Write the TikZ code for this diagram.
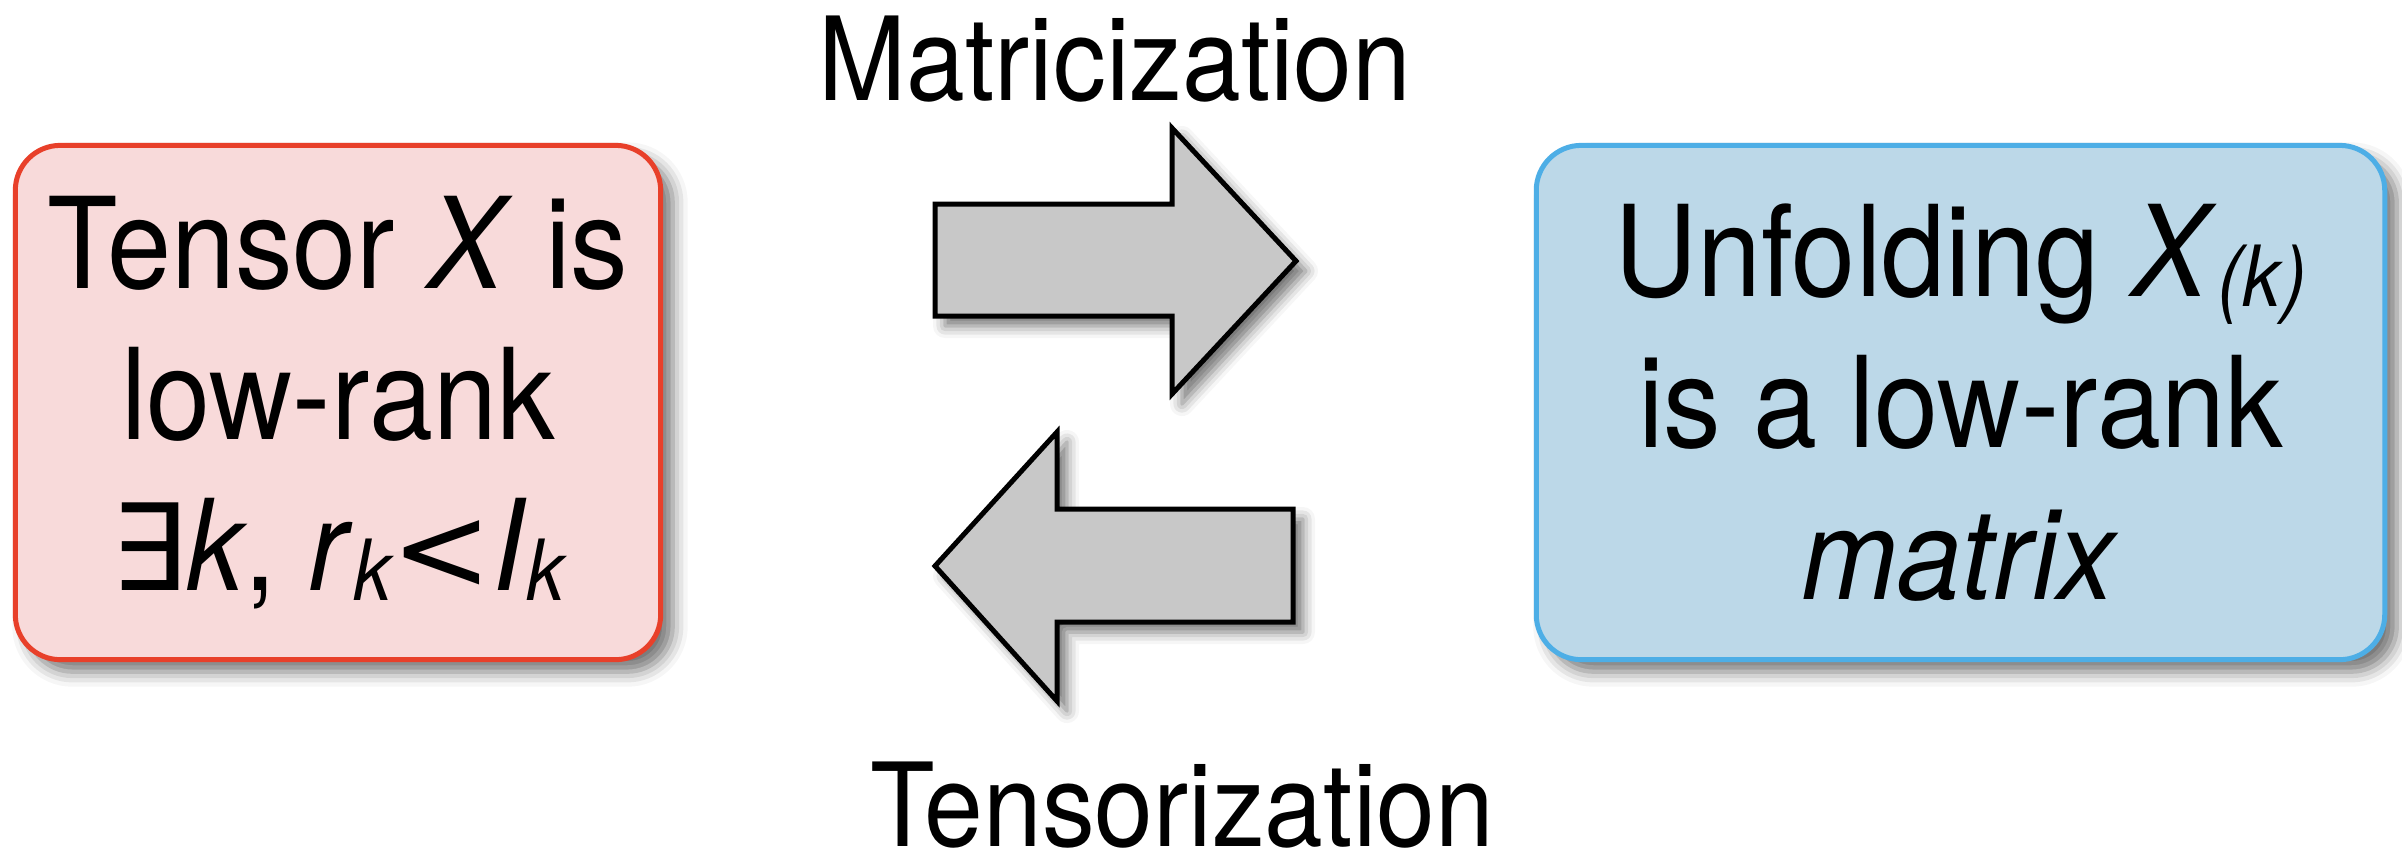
\documentclass[tikz,border=0pt]{standalone}
\usepackage{fontspec}
\setmainfont[FakeStretch=0.91]{TeX Gyre Heros}
\newfontfamily\existsfont[Scale=0.95]{DejaVu Sans}
\usepackage{tikz}
\usetikzlibrary{shadows, shadows.blur}

\definecolor{tensorfill}{RGB}{248,218,218}
\definecolor{tensorline}{RGB}{232,64,42}
\definecolor{unfoldfill}{RGB}{188,216,232}
\definecolor{unfoldline}{RGB}{77,174,230}
\definecolor{arrowgray}{RGB}{200,200,200}

% lowered italic index
\newcommand{\lowidx}[2]{\raisebox{-0.1cm}{\fontsize{#1}{#1}\selectfont\itshape #2}}

\begin{document}
\begin{tikzpicture}
[x=0.01cm, y=-0.01cm,
box/.style ={rectangle, rounded corners=0.45cm, line width=0.05cm,
minimum width=6.45cm, minimum height=5.14cm, inner sep=0pt,
align=center, font={\fontsize{36}{43}\selectfont},
blur shadow={shadow xshift=0.12cm, shadow yshift=-0.12cm, shadow blur radius=0.15cm, shadow opacity=55}},
blockarrow/.style ={draw=black, line width=0.05cm, fill=arrowgray,
blur shadow={shadow xshift=0.1cm, shadow yshift=-0.1cm, shadow blur radius=0.12cm, shadow opacity=55}},
caption/.style ={anchor=base, inner sep=0pt, font={\fontsize{33}{33}\selectfont}},
]
\useasboundingbox (0,0) rectangle (2402,856);

% boxes
\node [box, draw=tensorline, fill=tensorfill] (tx) at (338,402.5)
 {Tensor \textit{X} is\\ low-rank\\ {\existsfont ∃}\textit{k}, \textit{r}\lowidx{24}{k}{\existsfont<}\textit{I}\lowidx{24}{k}};
\node [box, draw=unfoldline, fill=unfoldfill, minimum width=8.48cm] (uf) at (1960.5,402.5)
 {Unfolding \textit{X}\lowidx{24}{(k)}\\ is a low-rank\\ \textit{matrix}};

% arrows
\draw [blockarrow] (935,204) -- (1172,204) -- (1172,128) -- (1296,261) -- (1172,394) -- (1172,316) -- (935,316) -- cycle;
\draw [blockarrow] (1293,509) -- (1057,509) -- (1057,432) -- (935,566) -- (1057,701) -- (1057,622) -- (1293,622) -- cycle;

% captions
\node [caption] (mt) at (1115,100) {Matricization};
\node [caption] (ts) at (1182,846) {Tensorization};
\end{tikzpicture}
\end{document}
